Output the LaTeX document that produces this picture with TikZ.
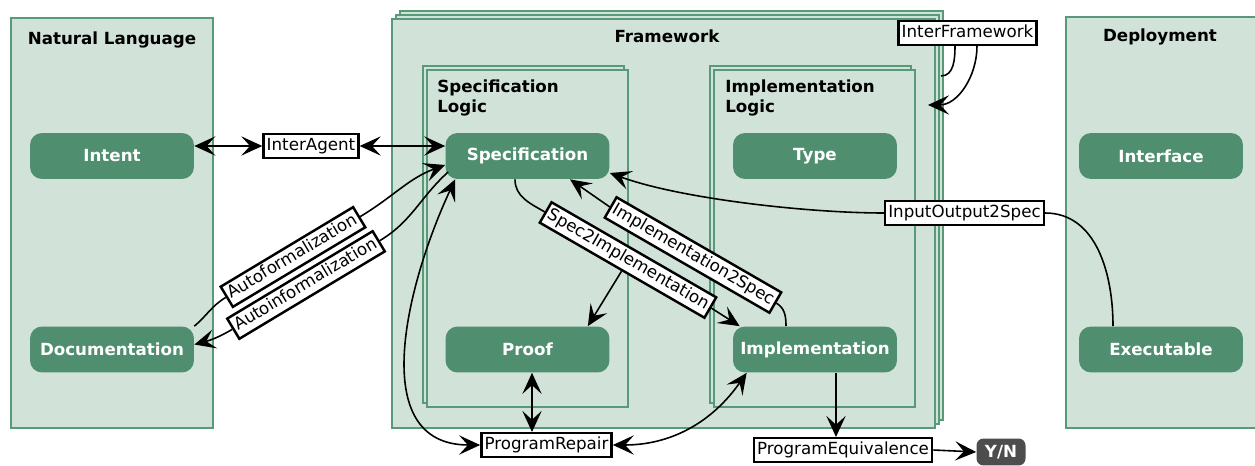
\documentclass[tikz,border=0pt]{standalone}
\usepackage{fontspec}
\setmainfont{DejaVu Sans}
\usepackage{tikz}
\usetikzlibrary{arrows.meta,calc}
\definecolor{panelfill}{HTML}{D1E2D8}
\definecolor{panelline}{HTML}{58997A}
\definecolor{blockfill}{HTML}{4F8F6F}
\definecolor{verdict}{HTML}{4D4D4D}
\newcommand{\figfont}{\fontsize{9.5}{11.5}\selectfont}
\tikzset{
  panel/.style  ={draw=panelline, fill=panelfill, line width=1.2pt, inner sep=0pt},
  block/.style  ={rounded corners=0.24cm, fill=blockfill, text=white, font=\figfont\bfseries,
                  minimum width=3.28cm, minimum height=0.92cm, inner sep=0pt},
  heading/.style={font=\figfont\bfseries, inner sep=0pt},
  % white boxed labels sitting on the connectors
  tag/.style    ={draw=black, fill=white, line width=1.4pt, font=\figfont,
                  inner xsep=1.8pt, inner ysep=2pt, text height=7.2pt, text depth=2.2pt},
  link/.style   ={line width=0.9pt},
  >={Stealth[length=12pt,width=11pt,inset=5pt]},
}

\begin{document}
\begin{tikzpicture}[x=0.02cm,y=-0.02cm]
\useasboundingbox (0,0) rectangle (1255,466);
% columns, the framework drawn as a small stack
\foreach \n/\x/\y/\w/\h in {nl/112/223/4.04/8.2, fwC/671.5/215.5/10.86/8.18,
   fwB/667.5/219.5/10.86/8.18, fw/663.5/223.5/10.86/8.18, dep/1164/222.5/3.92/8.22,
   slB/523.5/234.5/4.02/6.74, sl/527.5/238.5/4.02/6.74,
   ilB/810.5/234.5/4.02/6.74, il/814.5/238.5/4.02/6.74}
  {\node[panel, minimum width=\w cm, minimum height=\h cm] (\n) at (\x,\y) {};}
\node[heading, anchor=base] (nlT)  at (112,45)  {Natural Language};
\node[heading, anchor=base] (fwT)  at (667,43)  {Framework};
\node[heading, anchor=base] (depT) at (1160,42) {Deployment};
\node[heading, anchor=north west, align=left] (slT) at (437,79) {Specification\\Logic};
\node[heading, anchor=north west, align=left] (ilT) at (725,79) {Implementation\\Logic};
\foreach \n/\x/\y/\t in {Intent/112/156/Intent, Documentation/112/349.5/Documentation,
   Spec/527.5/156/Specification, Type/815/156/Type, Proof/527.5/349.5/Proof,
   Impl/815/349.5/Implementation, Interface/1161/156/Interface,
   Executable/1161/349.5/Executable}
  {\node[block] (\n) at (\x,\y) {\t};}
\node[block, fill=verdict, minimum width=0.98cm, minimum height=0.54cm,
      rounded corners=0.14cm] (YN) at (1001,452) {Y/N};
% labels
\node[tag] (IA) at (311,146) {InterAgent};
\node[tag, rotate=31] (AF) at (293,257) {Autoformalization};
\node[tag, rotate=31] (AI) at (306,285) {Autoinformalization};
\node[tag, rotate=-30] (S2I) at (628,260) {Spec2Implementation};
\node[tag, rotate=-30] (I2S) at (693,255) {Implementation2Spec};
\node[tag] (IFW)  at (967.5,33)  {InterFramework};
\node[tag] (IO2S) at (964.5,213) {InputOutput2Spec};
\node[tag] (PR)   at (546.5,445) {ProgramRepair};
\node[tag] (PE)   at (843,450)   {ProgramEquivalence};
% connectors
\draw[link,<->] (Intent.east |- IA.west) -- (IA.west);
\draw[link,<->] (IA.east) -- (IA.east -| Spec.west);
\draw[link] (Documentation.north east) to[out=40,in=211] (AF.west);
\draw[link,->] (AF.east) to[out=31,in=200] ([yshift=-0.18cm]Spec.west);
\draw[link] ([shift={(0.06cm,-0.32cm)}]Spec.west) to[out=222,in=31] (AI.east);
\draw[link,->] (AI.west) to[out=211,in=15] ([yshift=0.1cm]Documentation.east);
\draw[link] ([xshift=-0.25cm]Spec.south) to[out=-90,in=150] (S2I.west);
\draw[link,->] (S2I.east) -- ([xshift=0.14cm]Impl.north west);
\draw[link,->] (S2I.south) -- ([xshift=-0.44cm]Proof.north east);
\draw[link] ([xshift=-0.58cm]Impl.north) to[out=90,in=-30] (I2S.east);
\draw[link,->] (I2S.west) -- ([xshift=0.85cm]Spec.south);
\draw[link] ([xshift=-0.96cm]Executable.north) to[out=90,in=0] (IO2S.east);
\draw[link,->] (IO2S.west) to[out=180,in=-20,looseness=0.7] ([yshift=-0.34cm]Spec.east);
\draw[link] ([shift={(0.1cm,-1.16cm)}]fw.north east) to[out=0,in=-90] ([xshift=-0.25cm]IFW.south);
\draw[link,->] ([xshift=0.19cm]IFW.south) to[out=-90,in=0] ([shift={(-0.16cm,-1.74cm)}]fw.north east);
\draw[link,<->] ([xshift=0.2cm]Spec.south west) to[out=245,in=180,looseness=1.1] (PR.west);
\draw[link,<->] (PR.east) to[out=0,in=235] ([xshift=0.28cm]Impl.south west);
\draw[link,<->] ([xshift=0.09cm]Proof.south) -- ([xshift=0.09cm]Proof.south |- PR.north);
\draw[link,->] ([xshift=0.42cm]Impl.south) -- ([xshift=0.42cm]Impl.south |- PE.north);
\draw[link,->] (PE.east) -- (YN.west);
\end{tikzpicture}
\end{document}
